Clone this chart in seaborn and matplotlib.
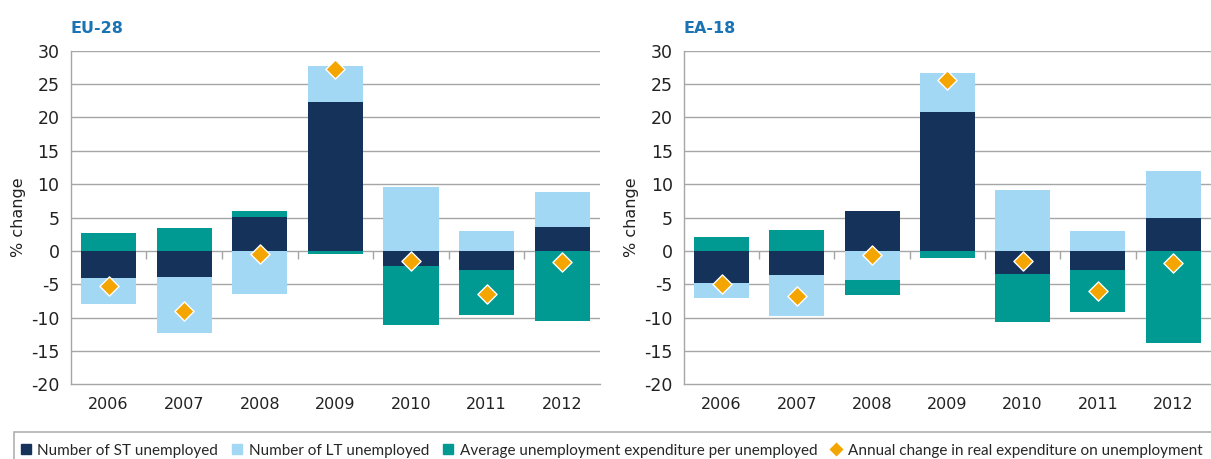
import numpy as np
import matplotlib
matplotlib.use("Agg")
import matplotlib.pyplot as plt
from matplotlib.lines import Line2D
from matplotlib.patches import Rectangle
import seaborn as sns

years = ["2006", "2007", "2008", "2009", "2010", "2011", "2012"]

# EU-28 components (% change)
eu_st = [-4.1, -3.95, 5.05, 22.3, -2.3, -2.9, 3.55]
eu_lt = [-3.85, -8.35, -6.45, 5.4, 9.55, 2.95, 5.25]
eu_exp = [2.65, 3.4, 0.9, -0.45, -8.85, -6.75, -10.55]
eu_total = [-5.3, -8.95, -0.45, 27.3, -1.5, -6.45, -1.7]

# EA-18 components (% change)
ea_st = [-4.85, -3.65, 5.95, 20.8, -3.5, -2.9, 4.9]
ea_lt = [-2.25, -6.15, -4.4, 5.85, 9.1, 2.95, 7.05]
ea_exp = [2.05, 3.1, -2.25, -1.1, -7.2, -6.3, -13.85]
ea_total = [-4.95, -6.7, -0.55, 25.6, -1.55, -6.05, -1.85]

series_names = ["Number of ST unemployed", "Number of LT unemployed",
                "Average unemployment expenditure per unemployed"]
line_name = "Annual change in real expenditure on unemployment"
colors = ["#15335a", "#a3d8f5", "#009a93"]
diamond_color = "#f5a500"
grid_color = "#a6a6a6"
title_color = "#1a73b3"

sns.set_theme(style="white")
plt.rcParams["font.family"] = ["DejaVu Sans"]
plt.rcParams["axes.unicode_minus"] = False

fig = plt.figure(figsize=(12.11, 4.59), dpi=100)
ax1 = fig.add_axes([0.0584, 0.1627, 0.437, 0.7268])
ax2 = fig.add_axes([0.5648, 0.1627, 0.435, 0.7268])


def draw_panel(ax, title, parts, total):
    x = np.arange(len(years))
    pos = np.zeros(len(years))
    neg = np.zeros(len(years))
    for vals, c in zip(parts, colors):
        vals = np.array(vals)
        bottom = np.where(vals >= 0, pos, neg)
        ax.bar(x, vals, bottom=bottom, width=0.73, color=c, linewidth=0, zorder=3)
        pos = pos + np.where(vals >= 0, vals, 0)
        neg = neg + np.where(vals < 0, vals, 0)
    sns.scatterplot(x=x, y=total, marker="D", s=95, color=diamond_color,
                    edgecolor="white", linewidth=1, ax=ax, zorder=5)

    ax.set_xlim(-0.5, len(years) - 0.5)
    ax.set_ylim(-20, 30)
    yt = np.arange(-20, 31, 5)
    ax.set_yticks(yt)
    ax.set_yticklabels([str(v) for v in yt], fontsize=12.5, color="#222222")
    ax.set_xticks(x)
    ax.set_xticklabels(years, fontsize=11.5, color="#222222")
    ax.tick_params(axis="x", length=0, pad=9)
    ax.tick_params(axis="y", length=0, pad=8)
    for v in yt[1:]:
        ax.axhline(v, color=grid_color, linewidth=1, zorder=1)
    # category separators on the zero line
    ax.vlines(x[:-1] + 0.5, -1.2, 0, color=grid_color, linewidth=1, zorder=2)
    for s in ["top", "right"]:
        ax.spines[s].set_visible(False)
    for s in ["left", "bottom"]:
        ax.spines[s].set_color(grid_color)
        ax.spines[s].set_linewidth(1)
    ax.set_ylabel("% change", fontsize=11.5, color="#222222", labelpad=4)
    ax.text(0, 1.045, title, transform=ax.transAxes, fontsize=11.5,
            fontweight="bold", color=title_color, ha="left", va="bottom")


draw_panel(ax1, "EU-28", [eu_st, eu_lt, eu_exp], eu_total)
draw_panel(ax2, "EA-18", [ea_st, ea_lt, ea_exp], ea_total)

# legend frame
fig.patches.append(Rectangle((14 / 1211, -0.2), 1.1, 0.2 + 27 / 459,
                             transform=fig.transFigure, fill=False,
                             edgecolor="#b0b0b0", linewidth=1.2))
handles = [Line2D([], [], marker="s", linestyle="", color=c, markersize=7) for c in colors]
handles.append(Line2D([], [], marker="D", linestyle="", color=diamond_color,
                      markeredgecolor="white", markersize=8))
fig.legend(handles, series_names + [line_name], loc="center left",
           bbox_to_anchor=(0.005, 0.018), ncol=4, frameon=False,
           handletextpad=0.15, columnspacing=0.65, handlelength=1.2,
           borderaxespad=0.3, prop={"family": "Lato", "size": 11})

fig.savefig("out.png", dpi=100)
